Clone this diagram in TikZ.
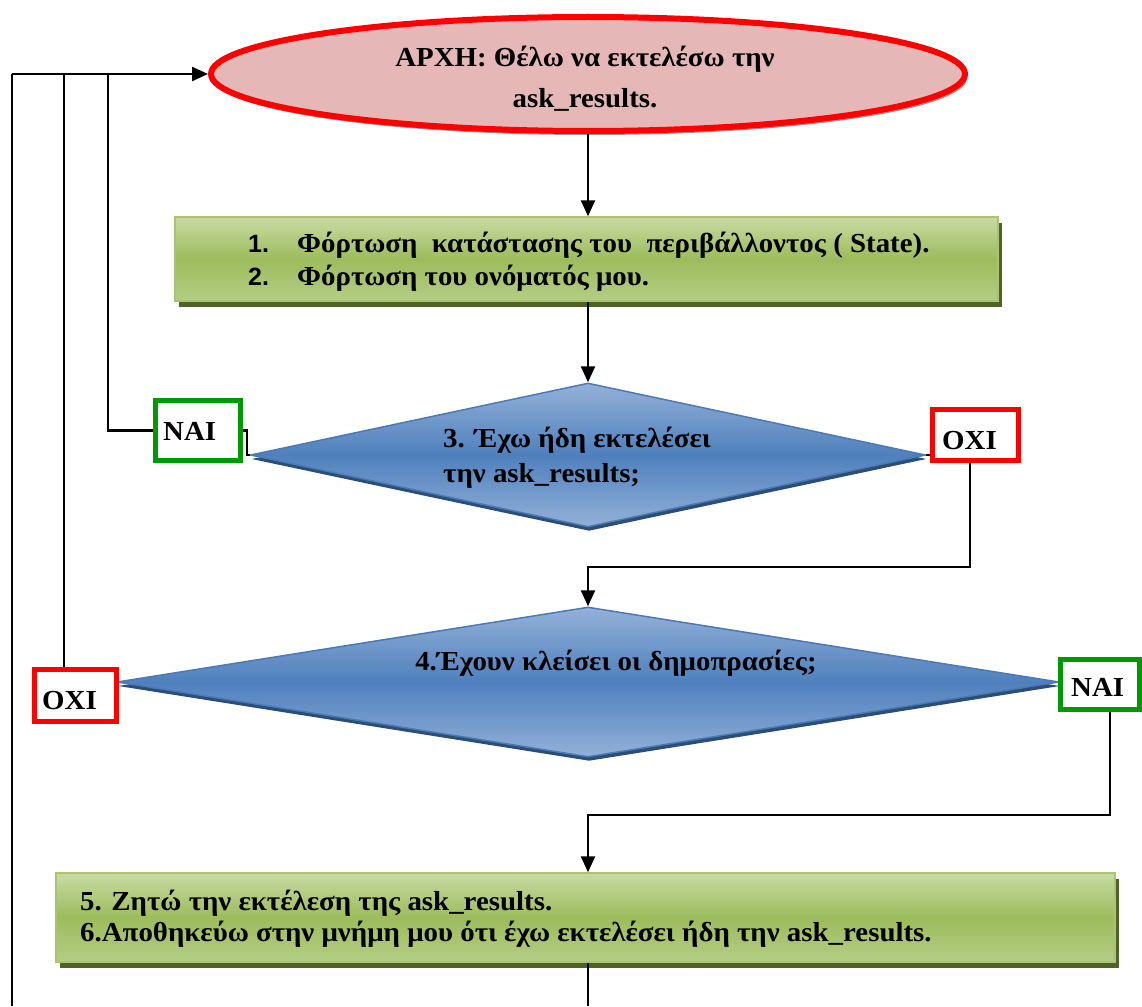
\documentclass[tikz,border=0pt]{standalone}
\usepackage{fontspec}
\setmainfont{Liberation Serif}[FakeStretch=1.05]
\newfontfamily\numfont{Liberation Sans}
\usetikzlibrary{shapes.geometric,shadows,arrows.meta}

\definecolor{startred}{HTML}{FF0000}
\definecolor{startpink}{HTML}{E5B7B7}
\definecolor{startshade}{HTML}{A88E8E}
\definecolor{greentop}{HTML}{C8DBA3}
\definecolor{greenmid}{HTML}{9DBC5C}
\definecolor{greenbot}{HTML}{B4CD86}
\definecolor{greenedge}{HTML}{A9C66E}
\definecolor{greenshade}{HTML}{4F6228}
\definecolor{bluetop}{HTML}{93B1D8}
\definecolor{bluemid}{HTML}{4F80BD}
\definecolor{blueedge}{HTML}{4A7AB5}
\definecolor{blueshade}{HTML}{2C4D75}
\definecolor{yesgreen}{HTML}{009A00}
\definecolor{nored}{HTML}{FF0000}

\newcommand\flowtext{\fontsize{27.5}{32}\selectfont\bfseries}
\newcommand\numtext{\numfont\fontsize{25}{32}\selectfont\bfseries}

\begin{document}
\begin{tikzpicture}[x=1pt,y=-1pt,
  conn/.style={line width=2.4pt, black},
  arr/.style={conn, -{Triangle[length=16pt,width=14pt]}},
  startnode/.style={ellipse, draw=startred, line width=6pt, fill=startpink,
    inner sep=0pt,
    drop shadow={shadow xshift=2pt, shadow yshift=-4pt, fill=startshade, opacity=1}},
  procbox/.style={rectangle, draw=greenedge, line width=1.5pt, inner sep=0pt,
    top color=greentop, bottom color=greenbot, middle color=greenmid,
    drop shadow={shadow xshift=4pt, shadow yshift=-6pt, fill=greenshade, opacity=1}},
  decision/.style={diamond, draw=blueedge, line width=1.5pt, inner sep=0pt,
    top color=bluetop, bottom color=bluetop, middle color=bluemid,
    drop shadow={shadow xshift=1pt, shadow yshift=-4pt, fill=blueshade, opacity=1}},
  yesbox/.style={rectangle, draw=yesgreen, line width=5pt, fill=white, inner sep=0pt},
  nobox/.style={rectangle, draw=nored, line width=5pt, fill=white, inner sep=0pt},
  txt/.style={inner sep=0pt, anchor=base west, font=\flowtext},
  ctxt/.style={inner sep=0pt, anchor=base, font=\flowtext},
]
\useasboundingbox (0,0) rectangle (1142,1006);

% start oval
\node[startnode, minimum width=754pt, minimum height=114pt] (start) at (588,74) {};
\node[ctxt] (startl1) at (585,67) {ΑΡΧΗ: Θέλω να εκτελέσω την};
\node[ctxt] (startl2) at (585,107) {ask\_results.};

% loading step
\node[procbox, minimum width=823pt, minimum height=84pt] (load) at (586.5,259) {};
\node[txt, font=\numtext] (n1) at (248,252) {1.};
\node[txt] (loadl1) at (297,252) {Φόρτωση\ \ κατάστασης του\ \ περιβάλλοντος ( State).};
\node[txt, font=\numtext] (n2) at (248,285) {2.};
\node[txt] (loadl2) at (297,285) {Φόρτωση του ονόματός μου.};

% first decision
\node[decision, minimum width=675pt, minimum height=144pt] (d1) at (588,455) {};
\node[txt] (d1l1) at (443,447) {3. Έχω ήδη εκτελέσει};
\node[txt] (d1l2) at (443,482) {την ask\_results;};

% second decision
\node[decision, minimum width=942pt, minimum height=150pt] (d2) at (588,682) {};
\node[ctxt] (d2l1) at (616,670) {4.Έχουν κλείσει οι δημοπρασίες;};

% final step
\node[procbox, minimum width=1059pt, minimum height=89pt] (act) at (585.5,917.5) {};
\node[txt] (actl1) at (80,910) {5. Ζητώ την εκτέλεση της ask\_results.};
\node[txt] (actl2) at (80,941) {6.Αποθηκεύω στην μνήμη μου ότι έχω εκτελέσει ήδη την ask\_results.};

% answer boxes
\node[yesbox, minimum width=85pt, minimum height=60pt] (yes1) at (198,430.5) {};
\node[txt] (yes1t) at (163,440) {NAI};
\node[nobox, minimum width=86pt, minimum height=51pt] (no1) at (975.5,435) {};
\node[txt] (no1t) at (942,449) {OXI};
\node[nobox, minimum width=82pt, minimum height=52pt] (no2) at (75.5,695.5) {};
\node[txt] (no2t) at (42,709) {OXI};
\node[yesbox, minimum width=79pt, minimum height=50pt] (yes2) at (1100,684.5) {};
\node[txt] (yes2t) at (1071,696) {NAI};

% routing points
\coordinate (j0) at (12,74);
\coordinate (j1) at (64,74);
\coordinate (j2) at (108,74);
\coordinate (leftend) at (12,1006);
\coordinate (b1) at (970,567);
\coordinate (b2) at (1110,815);
\coordinate (bottomend) at (588,1006);

% connectors
\draw[arr] (start.south) -- (start.south |- load.north);
\draw[arr] (load.south -| start.south) -- (d1.north);
\draw[conn] (yes1.east) -- ++(4,0) |- (d1.west);
\draw[conn] (yes1.west) -| (j2);
\draw[conn] (j1 |- no2.north) -- (j1);
\draw[conn] (leftend) -- (j0);
\draw[arr] (j0) -- (start.west);
\draw[conn] (d1.east) -- (d1.east -| no1.west);
\draw[arr] (b1 |- no1.south) -- (b1) -| (d2.north);
\draw[arr] (b2 |- yes2.south) -- (b2) -| (act.north -| d2.north);
\draw[conn] (act.south -| d2.south) -- (bottomend);
\end{tikzpicture}
\end{document}
